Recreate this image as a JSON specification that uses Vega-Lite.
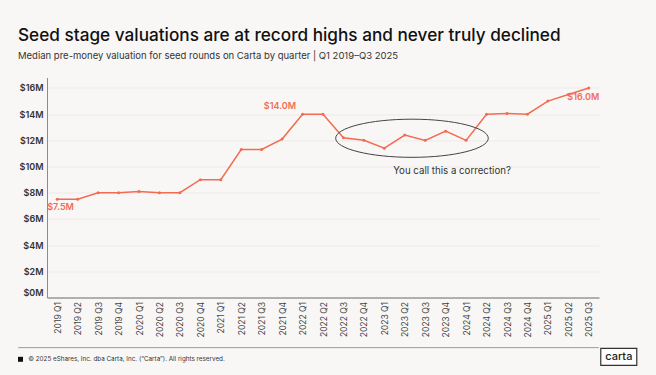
{
  "$schema": "https://vega.github.io/schema/vega-lite/v6.json",
  "width": 552,
  "height": 220,
  "autosize": {"type": "none"},
  "padding": {"left": 47, "top": 77.5, "right": 57, "bottom": 77.5},
  "background": "#f9f7f6",
  "config": {"view": {"stroke": null}, "font": "Inter"},
  "title": {
    "text": "Seed stage valuations are at record highs and never truly declined",
    "subtitle": "Median pre-money valuation for seed rounds on Carta by quarter | Q1 2019–Q3 2025",
    "anchor": "start",
    "frame": "group",
    "dx": -29,
    "offset": 17,
    "fontSize": 17.2,
    "fontWeight": 500,
    "color": "#111111",
    "subtitleFontSize": 9.5,
    "subtitleColor": "#333333",
    "subtitlePadding": 7
  },
  "datasets": {
    "seed": [
      {"quarter": "2019 Q1", "value": 7.5, "label": "$7.5M"},
      {"quarter": "2019 Q2", "value": 7.5},
      {"quarter": "2019 Q3", "value": 8.0},
      {"quarter": "2019 Q4", "value": 8.0},
      {"quarter": "2020 Q1", "value": 8.1},
      {"quarter": "2020 Q2", "value": 8.0},
      {"quarter": "2020 Q3", "value": 8.0},
      {"quarter": "2020 Q4", "value": 9.0},
      {"quarter": "2021 Q1", "value": 9.0},
      {"quarter": "2021 Q2", "value": 11.3},
      {"quarter": "2021 Q3", "value": 11.3},
      {"quarter": "2021 Q4", "value": 12.1},
      {"quarter": "2022 Q1", "value": 14.0, "label": "$14.0M"},
      {"quarter": "2022 Q2", "value": 14.0},
      {"quarter": "2022 Q3", "value": 12.2},
      {"quarter": "2022 Q4", "value": 12.0},
      {"quarter": "2023 Q1", "value": 11.4},
      {"quarter": "2023 Q2", "value": 12.4},
      {"quarter": "2023 Q3", "value": 12.0},
      {"quarter": "2023 Q4", "value": 12.7},
      {"quarter": "2024 Q1", "value": 12.0},
      {"quarter": "2024 Q2", "value": 14.0},
      {"quarter": "2024 Q3", "value": 14.05},
      {"quarter": "2024 Q4", "value": 14.0},
      {"quarter": "2025 Q1", "value": 15.0},
      {"quarter": "2025 Q2", "value": 15.5},
      {"quarter": "2025 Q3", "value": 16.0, "label": "$16.0M"}
    ],
    "notes": [
      {"kind": "ellipse", "quarter": "2023 Q2", "quarter2": "2023 Q2", "value": 12.16, "text": ""},
      {"kind": "callout", "quarter": "2023 Q4", "quarter2": "2023 Q4", "value": 9.68, "text": "You call this a correction?"},
      {"kind": "footer", "quarter": "2019 Q1", "quarter2": "2019 Q1", "value": -4.72, "text": "© 2025 eShares, Inc. dba Carta, Inc. (“Carta”). All rights reserved."},
      {"kind": "logo", "quarter": "2025 Q3", "quarter2": "2025 Q3", "value": -4.54, "text": "carta"},
      {"kind": "rule", "quarter": "2019 Q1", "quarter2": "2025 Q3", "value": -3.83, "text": ""}
    ]
  },
  "layer": [
    {
      "data": {"name": "seed"},
      "encoding": {
        "x": {
          "field": "quarter",
          "type": "ordinal",
          "sort": null,
          "scale": {
            "type": "point",
            "padding": 0.5,
            "domain": ["2019 Q1","2019 Q2","2019 Q3","2019 Q4","2020 Q1","2020 Q2","2020 Q3","2020 Q4","2021 Q1","2021 Q2","2021 Q3","2021 Q4","2022 Q1","2022 Q2","2022 Q3","2022 Q4","2023 Q1","2023 Q2","2023 Q3","2023 Q4","2024 Q1","2024 Q2","2024 Q3","2024 Q4","2025 Q1","2025 Q2","2025 Q3"]
          },
          "axis": {
            "title": null,
            "labelAngle": -90,
            "labelAlign": "right",
            "labelBaseline": "middle",
            "labelPadding": 4,
            "labelFontSize": 8.5,
            "labelColor": "#444444",
            "ticks": false,
            "grid": false,
            "domainColor": "#9a9a9a",
            "domainWidth": 1.5
          }
        },
        "y": {
          "field": "value",
          "type": "quantitative",
          "scale": {"domain": [0, 16.8], "nice": false, "zero": false},
          "axis": {
            "title": null,
            "values": [0, 2, 4, 6, 8, 10, 12, 14, 16],
            "labelExpr": "'$' + datum.value + 'M'",
            "labelFontSize": 9,
            "labelFontWeight": 600,
            "labelColor": "#333333",
            "labelPadding": 4,
            "labelFlush": true,
            "labelOverlap": false,
            "ticks": false,
            "domainColor": "#8c8c8c",
            "domainWidth": 1,
            "gridColor": "#ebe7e5",
            "gridWidth": 0.8
          }
        }
      },
      "layer": [
        {"mark": {"type": "line", "color": "#f26c52", "strokeWidth": 1.5}},
        {"mark": {"type": "point", "filled": true, "size": 9, "color": "#f26c52", "opacity": 1}},
        {
          "transform": [{"filter": "datum.quarter == '2019 Q1'"}],
          "mark": {"type": "text", "align": "left", "baseline": "middle", "dx": -10, "dy": 7.5, "fontSize": 9, "fontWeight": 600, "color": "#f26c52"},
          "encoding": {"text": {"field": "label"}}
        },
        {
          "transform": [{"filter": "datum.quarter == '2022 Q1'"}],
          "mark": {"type": "text", "align": "right", "baseline": "middle", "dx": -6.5, "dy": -8.5, "fontSize": 9, "fontWeight": 600, "color": "#f26c52"},
          "encoding": {"text": {"field": "label"}}
        },
        {
          "transform": [{"filter": "datum.quarter == '2025 Q3'"}],
          "mark": {"type": "text", "align": "right", "baseline": "middle", "dx": 10.5, "dy": 8.7, "fontSize": 9, "fontWeight": 600, "color": "#f26c52"},
          "encoding": {"text": {"field": "label"}}
        }
      ]
    },
    {
      "data": {"name": "notes"},
      "encoding": {
        "x": {
          "field": "quarter",
          "type": "ordinal",
          "sort": null,
          "scale": {
            "type": "point",
            "padding": 0.5,
            "domain": ["2019 Q1","2019 Q2","2019 Q3","2019 Q4","2020 Q1","2020 Q2","2020 Q3","2020 Q4","2021 Q1","2021 Q2","2021 Q3","2021 Q4","2022 Q1","2022 Q2","2022 Q3","2022 Q4","2023 Q1","2023 Q2","2023 Q3","2023 Q4","2024 Q1","2024 Q2","2024 Q3","2024 Q4","2025 Q1","2025 Q2","2025 Q3"]
          },
          "axis": {
            "title": null,
            "labelAngle": -90,
            "labelAlign": "right",
            "labelBaseline": "middle",
            "labelPadding": 4,
            "labelFontSize": 8.5,
            "labelColor": "#444444",
            "ticks": false,
            "grid": false,
            "domainColor": "#9a9a9a",
            "domainWidth": 1.5
          }
        },
        "y": {
          "field": "value",
          "type": "quantitative",
          "scale": {"domain": [0, 16.8], "nice": false, "zero": false},
          "axis": {
            "title": null,
            "values": [0, 2, 4, 6, 8, 10, 12, 14, 16],
            "labelExpr": "'$' + datum.value + 'M'",
            "labelFontSize": 9,
            "labelFontWeight": 600,
            "labelColor": "#333333",
            "labelPadding": 4,
            "labelFlush": true,
            "labelOverlap": false,
            "ticks": false,
            "domainColor": "#8c8c8c",
            "domainWidth": 1,
            "gridColor": "#ebe7e5",
            "gridWidth": 0.8
          }
        }
      },
      "layer": [
        {
          "transform": [{"filter": "datum.kind == 'ellipse'"}],
          "mark": {
            "type": "point",
            "shape": "M -1 0 C -1 -0.138 -0.552 -0.25 0 -0.25 C 0.552 -0.25 1 -0.138 1 0 C 1 0.138 0.552 0.25 0 0.25 C -0.552 0.25 -1 0.138 -1 0 Z",
            "size": 23290,
            "filled": false,
            "stroke": "#444444",
            "strokeWidth": 1,
            "opacity": 1,
            "xOffset": 7.2
          }
        },
        {
          "transform": [{"filter": "datum.kind == 'callout'"}],
          "mark": {"type": "text", "align": "center", "baseline": "middle", "dx": 6.4, "fontSize": 9.7, "color": "#333333"},
          "encoding": {"text": {"field": "text"}}
        },
        {
          "transform": [{"filter": "datum.kind == 'rule'"}],
          "mark": {"type": "rule", "color": "#9a9a9a", "strokeWidth": 1, "xOffset": -39, "x2Offset": 10},
          "encoding": {"x2": {"field": "quarter2"}}
        },
        {
          "transform": [{"filter": "datum.kind == 'footer'"}],
          "mark": {"type": "point", "shape": "square", "filled": true, "size": 25, "color": "#111111", "opacity": 1, "xOffset": -36.7}
        },
        {
          "transform": [{"filter": "datum.kind == 'footer'"}],
          "mark": {"type": "text", "align": "left", "baseline": "middle", "dx": -29, "fontSize": 6.3, "color": "#333333"},
          "encoding": {"text": {"field": "text"}}
        },
        {
          "transform": [{"filter": "datum.kind == 'logo'"}],
          "mark": {
            "type": "point",
            "shape": "M -1 -0.472 L 1 -0.472 L 1 0.472 L -1 0.472 Z",
            "size": 1296,
            "filled": true,
            "fill": "#ffffff",
            "stroke": "#333333",
            "strokeWidth": 1.2,
            "opacity": 1,
            "fillOpacity": 1,
            "strokeOpacity": 1,
            "xOffset": 30
          }
        },
        {
          "transform": [{"filter": "datum.kind == 'logo'"}],
          "mark": {"type": "text", "align": "center", "baseline": "middle", "dx": 30, "fontSize": 11, "fontWeight": 500, "color": "#222222"},
          "encoding": {"text": {"field": "text"}}
        }
      ]
    }
  ]
}
